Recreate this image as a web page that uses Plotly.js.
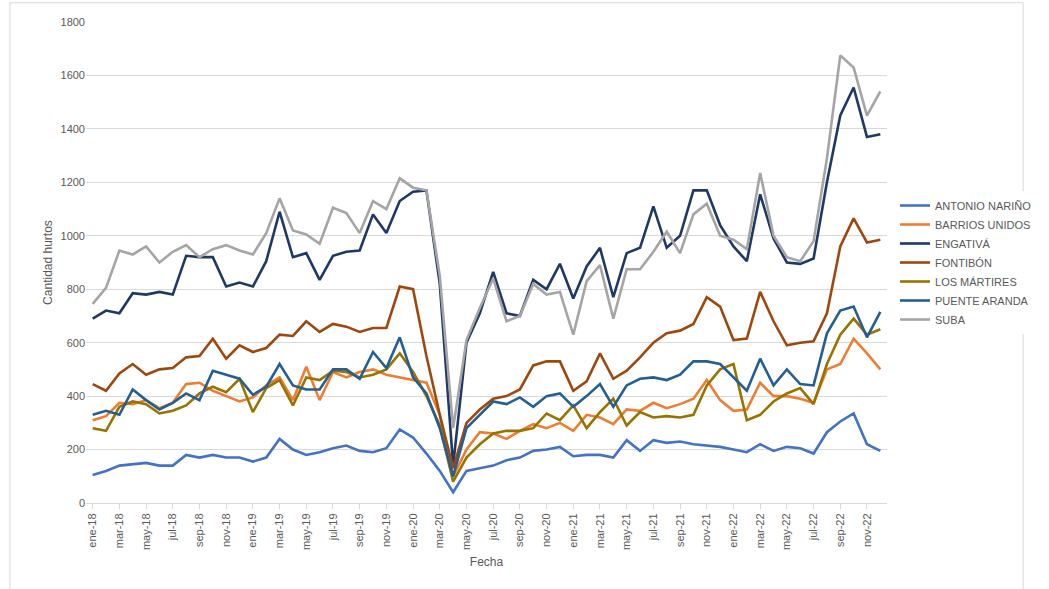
<!DOCTYPE html>
<html><head><meta charset="utf-8">
<script src="https://cdn.plot.ly/plotly-3.0.1.min.js"></script>
<style>html,body{margin:0;padding:0;background:#fff}#c{width:1049px;height:589px}</style>
</head><body><div id="c"></div>
<script>
const mesNames=["ene","feb","mar","abr","may","jun","jul","ago","sep","oct","nov","dic"];
const years=["18","19","20","21","22"];
const categories=[];years.forEach(y=>mesNames.forEach(m=>categories.push(m+"-"+y)));
const tickLabels=categories.filter((c,i)=>i%2===0);
const antonioNarino=[105,120,140,145,150,140,140,180,170,180,170,170, 155,170,240,200,180,190,205,215,195,190,205,275, 245,185,120,40,120,130,140,160,170,195,200,210, 175,180,180,170,235,195,235,225,230,220,215,210, 200,190,220,195,210,205,185,265,305,335,220,195];
const barriosUnidos=[310,325,375,370,385,355,375,445,450,420,400,380, 395,440,470,385,510,385,490,470,490,500,480,470, 460,450,330,100,200,265,260,240,270,295,280,300, 270,330,320,295,350,345,375,355,370,390,460,385, 345,350,450,400,400,390,375,500,520,615,560,500];
const engativa=[690,720,710,785,780,790,780,925,920,920,810,825, 810,905,1090,920,935,835,925,940,945,1080,1010,1130, 1165,1170,820,140,600,710,865,710,700,835,800,895, 765,885,955,770,935,955,1110,955,1000,1170,1170,1040, 960,905,1155,990,900,895,915,1200,1450,1555,1370,1380];
const fontibon=[445,420,485,520,480,500,505,545,550,615,540,590, 565,580,630,625,680,640,670,660,640,655,655,810, 800,550,330,130,300,350,390,400,425,515,530,530, 420,455,560,465,495,545,600,635,645,670,770,735, 610,615,790,680,590,600,605,710,960,1065,975,985];
const losMartires=[280,270,360,380,370,335,345,365,410,435,415,465, 340,430,460,365,470,460,495,490,470,480,500,560, 490,400,290,80,170,220,260,270,270,280,335,310, 365,280,340,390,290,340,320,325,320,330,440,500, 520,310,330,380,410,430,370,520,630,690,630,650];
const puenteAranda=[330,345,330,425,385,350,375,410,385,495,480,465, 405,435,520,440,425,425,500,500,465,565,505,620, 470,410,280,100,280,330,380,370,395,360,400,410, 360,400,445,360,440,465,470,460,480,530,530,520, 470,420,540,440,500,445,440,635,720,735,620,715];
const suba=[745,805,945,930,960,900,940,965,920,950,965,945, 930,1010,1140,1020,1005,970,1105,1085,1010,1130,1100,1215, 1180,1170,850,280,610,730,840,680,700,820,780,790, 630,830,890,690,875,875,940,1015,935,1080,1120,1000, 985,950,1235,1000,920,905,980,1290,1675,1630,1450,1540];
const seriesNames=["ANTONIO NARIÑO","BARRIOS UNIDOS","ENGATIVÁ","FONTIBÓN","LOS MÁRTIRES","PUENTE ARANDA","SUBA"];
const seriesData=[antonioNarino,barriosUnidos,engativa,fontibon,losMartires,puenteAranda,suba];
const colors=["#4472C4","#ED7D31","#203864","#9E480E","#997300","#255E91","#A5A5A5"];
const traces=seriesData.map((d,i)=>({x:categories,y:d,name:seriesNames[i],type:"scatter",mode:"lines",line:{color:colors[i],width:2.6}}));
Plotly.newPlot("c",traces,{
 width:1049,height:589,paper_bgcolor:"#fff",plot_bgcolor:"#fff",
 font:{family:"Liberation Sans, Arial",color:"#595959",size:11},
 margin:{l:86,r:150,t:22,b:86},
 xaxis:{type:"category",categoryarray:categories,tickvals:tickLabels,ticktext:tickLabels,tickangle:-90,showgrid:false,showline:true,linecolor:"#d9d9d9",ticks:"outside",ticklen:5,tickcolor:"#d9d9d9",title:{text:"Fecha",font:{size:12,color:"#595959"},standoff:8},range:[-0.5,59.5]},
 yaxis:{range:[0,1800],dtick:200,gridcolor:"#d9d9d9",zeroline:false,ticks:"",title:{text:"Cantidad hurtos",font:{size:12,color:"#595959"}}},
 legend:{x:1.01,y:0.5,yanchor:"middle",itemwidth:30,font:{size:11,color:"#595959"},tracegroupgap:0},
 shapes:[{type:"rect",xref:"paper",yref:"paper",x0:-0.095,x1:1.17,y0:-0.18,y1:1.04,line:{color:"#d9d9d9",width:1}}]
},{displayModeBar:false});
</script></body></html>
